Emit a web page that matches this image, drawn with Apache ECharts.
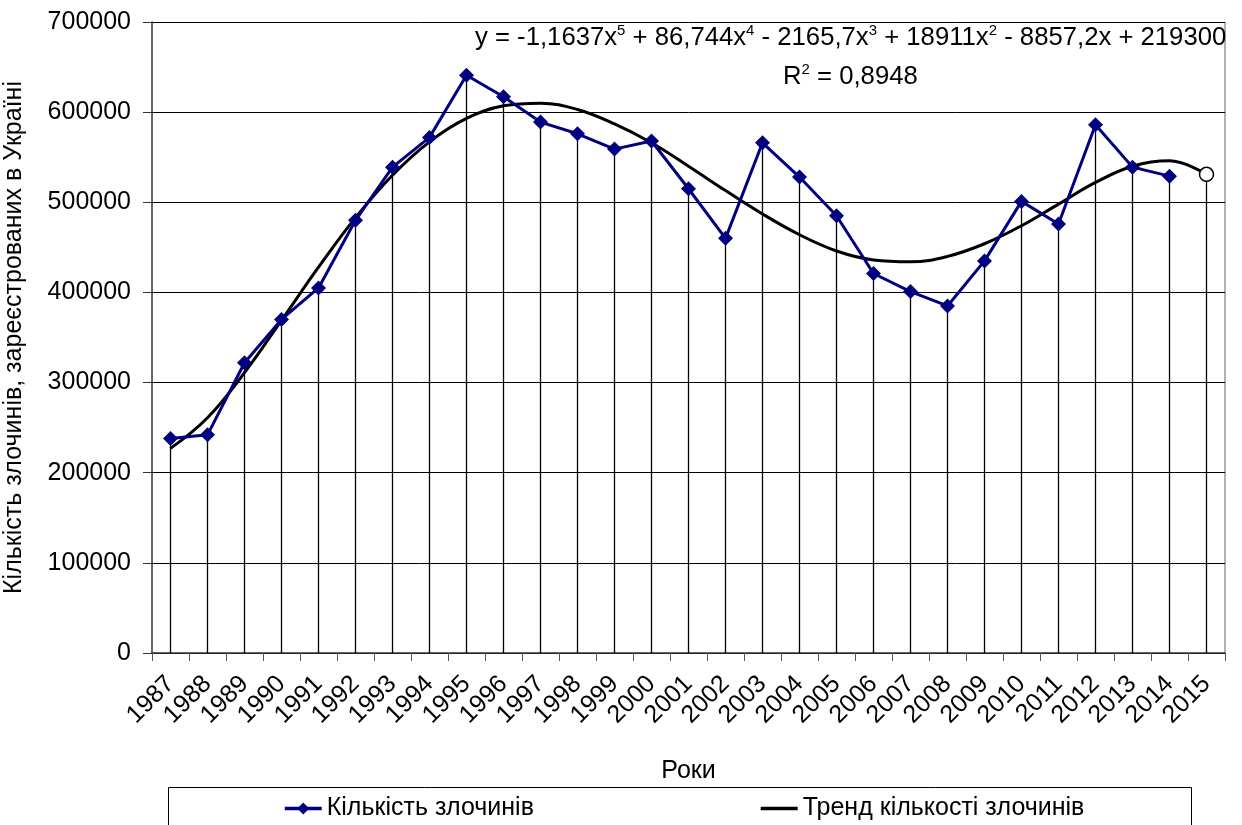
<!DOCTYPE html>
<html>
<head>
<meta charset="utf-8">
<script src="https://cdn.jsdelivr.net/npm/echarts@6/dist/echarts.min.js"></script>
<style>
  html, body { margin: 0; padding: 0; background: #fff; }
  #chart { width: 1242px; height: 825px; }
</style>
</head>
<body>
<div id="chart"></div>
<script>
// years on the category axis
var years = ["1987", "1988", "1989", "1990", "1991", "1992", "1993", "1994", "1995", "1996",
  "1997", "1998", "1999", "2000", "2001", "2002", "2003", "2004", "2005", "2006",
  "2007", "2008", "2009", "2010", "2011", "2012", "2013", "2014", "2015"];

// registered crimes (1987-2014)
var crimes = [238000, 242000, 322000, 370000, 405000, 480000, 539000, 572000, 641000, 617000,
  589000, 576000, 559000, 568000, 515000, 460000, 566000, 528000, 485000, 421000,
  401000, 385000, 435000, 501000, 476000, 586000, 539000, 529000];

// forecast value for 2015 (open circle)
var forecast2015 = 531000;

// trend line values read at each year
var trend = [227000, 261000, 311000, 369000, 428000, 483000, 530000, 567000, 593000, 607000,
  610000, 603000, 587000, 566000, 540000, 513000, 487000, 464000, 446000, 436000,
  434000, 440000, 454000, 474000, 498000, 522000, 540000, 546000, 531000];

var yTicks = [0, 100000, 200000, 300000, 400000, 500000, 600000, 700000];

var FONT = "Liberation Sans";

var dropData = crimes.concat([forecast2015]);
var forecastData = years.map(function (y, i) { return i === years.length - 1 ? forecast2015 : null; });

var chart = echarts.init(document.getElementById("chart"));
var option = {
  backgroundColor: "#fff",
  animation: false,
  textStyle: { fontFamily: FONT },
  grid: { left: 152, right: 17, top: 22, bottom: 172, outerBoundsMode: "none" },
  legend: {
    data: [
      { name: "Кількість злочинів" },
      { name: "Тренд кількості злочинів", itemStyle: { opacity: 0 } }
    ],
    left: 283,
    top: 796,
    padding: 0,
    itemWidth: 37,
    itemHeight: 15,
    itemGap: 225,
    lineStyle: { width: 3.5 },
    textStyle: { fontFamily: FONT, fontSize: 25, color: "#000" }
  },
  xAxis: {
    type: "category",
    data: years,
    boundaryGap: true,
    name: "Роки",
    nameLocation: "middle",
    nameGap: 106,
    nameTextStyle: { fontFamily: FONT, fontSize: 25, color: "#000" },
    axisLine: { lineStyle: { color: "#333", width: 1.5 } },
    axisTick: { show: true, length: 8, lineStyle: { color: "#555" } },
    axisLabel: {
      interval: 0,
      rotate: 45,
      margin: 27,
      fontFamily: FONT,
      fontSize: 25,
      color: "#000"
    },
    splitLine: { show: false }
  },
  yAxis: {
    type: "value",
    min: yTicks[0],
    max: yTicks[yTicks.length - 1],
    interval: 100000,
    name: "Кількість злочинів, зареєстрованих в Україні",
    nameLocation: "middle",
    nameGap: 125,
    nameTextStyle: { fontFamily: FONT, fontSize: 25, color: "#000" },
    axisLine: { show: true, lineStyle: { color: "#333", width: 1.5 } },
    axisTick: { show: true, length: 9, lineStyle: { color: "#333" } },
    axisLabel: {
      margin: 21,
      fontFamily: FONT,
      fontSize: 25,
      color: "#000",
      formatter: function (v) { return String(v); }
    },
    splitLine: { show: true, lineStyle: { color: "#000", width: 1 } }
  },
  series: [
    {
      name: "drop",
      type: "bar",
      data: dropData,
      barWidth: 1.3,
      silent: true,
      itemStyle: { color: "#000" },
      z: 1
    },
    {
      name: "Кількість злочинів",
      type: "line",
      data: crimes,
      symbol: "diamond",
      symbolSize: 15,
      lineStyle: { color: "#000080", width: 3 },
      itemStyle: { color: "#000080" },
      z: 3
    },
    {
      name: "Тренд кількості злочинів",
      type: "line",
      data: trend,
      smooth: 0.4,
      symbol: "none",
      lineStyle: { color: "#000", width: 3 },
      itemStyle: { color: "#000" },
      z: 2
    },
    {
      name: "forecast",
      type: "line",
      data: forecastData,
      symbol: "circle",
      symbolSize: 14,
      lineStyle: { width: 0 },
      itemStyle: { color: "#fff", borderColor: "#000", borderWidth: 1.5 },
      z: 4
    }
  ],
  graphic: [
    {
      type: "rect",
      shape: { x: 168.5, y: 787.5, width: 1023, height: 50 },
      style: { fill: "none", stroke: "#000", lineWidth: 1 },
      z: 0
    },
    {
      type: "line",
      shape: { x1: 1225, y1: 22, x2: 1225, y2: 653 },
      style: { stroke: "#999", lineWidth: 1.5 }
    },
    {
      type: "text",
      left: 475,
      top: 23,
      style: {
        text: "{a|y = -1,1637x}{s|5}{a| + 86,744x}{s|4}{a| - 2165,7x}{s|3}{a| + 18911x}{s|2}{a| - 8857,2x + 219300}",
        rich: {
          a: { fontFamily: FONT, fontSize: 25.7, color: "#000", lineHeight: 28, verticalAlign: "bottom" },
          s: { fontFamily: FONT, fontSize: 15, color: "#000", lineHeight: 28, verticalAlign: "top", padding: [0, 0, 12, 0] }
        }
      },
      z: 10
    },
    {
      type: "text",
      left: 783,
      top: 62,
      style: {
        text: "{a|R}{s|2}{a| = 0,8948}",
        rich: {
          a: { fontFamily: FONT, fontSize: 25.7, color: "#000", lineHeight: 28, verticalAlign: "bottom" },
          s: { fontFamily: FONT, fontSize: 15, color: "#000", lineHeight: 28, verticalAlign: "top", padding: [0, 0, 12, 0] }
        }
      },
      z: 10
    }
  ]
};
chart.setOption(option);
</script>
</body>
</html>
